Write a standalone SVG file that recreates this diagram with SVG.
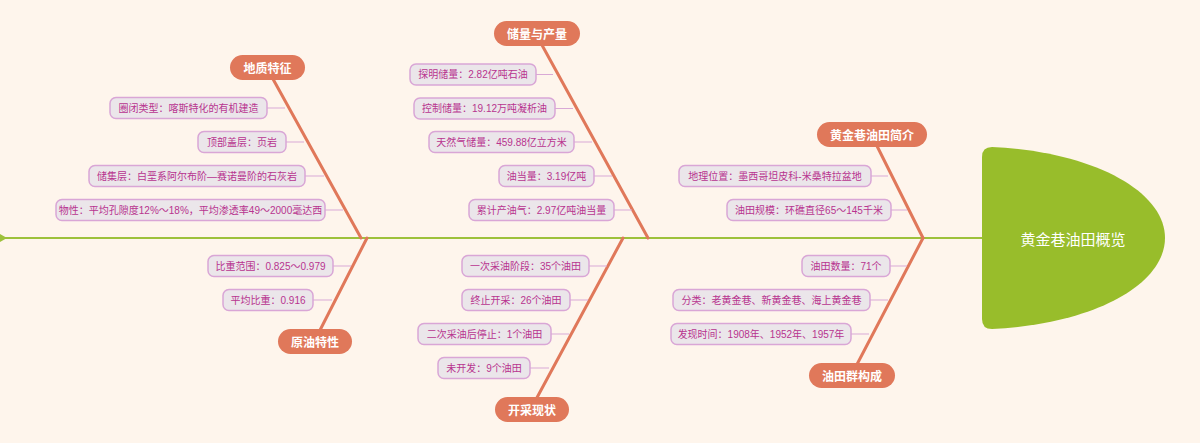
<svg xmlns="http://www.w3.org/2000/svg" width="1200" height="443" viewBox="0 0 1200 443">
<style>
.bg{fill:#fef5ec}
.spine{stroke:#9dc13b;stroke-width:2;fill:none}
.br{stroke:#e0785a;stroke-width:3;fill:none;stroke-linecap:round}
.cn{stroke:#d9a9d6;stroke-width:1;fill:none}
.pill{fill:#e0785a}
.pt{fill:#ffffff;font-family:"Noto Sans CJK SC",sans-serif;font-size:12px;font-weight:bold;text-anchor:middle;dominant-baseline:central}
.box{fill:#ebe6ea;stroke:#d9a6d6;stroke-width:1.5}
.bt{fill:#b8348f;font-family:"Liberation Sans","Noto Sans CJK SC",sans-serif;font-size:10px;text-anchor:middle;dominant-baseline:central}
.main{fill:#98bd2b}
.mt{fill:#ffffff;font-family:"Noto Sans CJK SC",sans-serif;font-size:15px;text-anchor:middle;dominant-baseline:central}
</style>
<rect class="bg" x="0" y="0" width="1200" height="443"/>
<g id="connectors">
<line class="spine" x1="0" y1="238" x2="984" y2="238"/>
<polygon points="0,234 7,238 0,242" fill="#9dc13b"/>
<line class="br" x1="268" y1="70" x2="361" y2="238"/>
<line class="br" x1="367" y1="238" x2="315" y2="340"/>
<line class="br" x1="537" y1="36" x2="648" y2="238"/>
<line class="br" x1="623" y1="238" x2="533" y2="405"/>
<line class="br" x1="872" y1="136" x2="923" y2="238"/>
<line class="br" x1="923" y1="238" x2="853" y2="372"/>
<line class="cn" x1="267" y1="108" x2="285" y2="108"/>
<line class="cn" x1="286" y1="142" x2="304" y2="142"/>
<line class="cn" x1="305" y1="176" x2="324" y2="176"/>
<line class="cn" x1="325" y1="210" x2="343" y2="210"/>
<line class="cn" x1="333" y1="266" x2="351" y2="266"/>
<line class="cn" x1="313" y1="300" x2="332" y2="300"/>
<line class="cn" x1="536" y1="74.5" x2="553" y2="74.5"/>
<line class="cn" x1="555" y1="108.5" x2="573" y2="108.5"/>
<line class="cn" x1="574" y1="142" x2="592" y2="142"/>
<line class="cn" x1="594" y1="176" x2="612" y2="176"/>
<line class="cn" x1="614" y1="210" x2="632" y2="210"/>
<line class="cn" x1="589" y1="266" x2="607" y2="266"/>
<line class="cn" x1="570" y1="300" x2="588" y2="300"/>
<line class="cn" x1="551" y1="334" x2="569" y2="334"/>
<line class="cn" x1="530" y1="368" x2="549" y2="368"/>
<line class="cn" x1="871" y1="176" x2="888" y2="176"/>
<line class="cn" x1="891" y1="210" x2="907" y2="210"/>
<line class="cn" x1="890" y1="266" x2="907" y2="266"/>
<line class="cn" x1="870" y1="300" x2="888" y2="300"/>
<line class="cn" x1="851" y1="334" x2="869" y2="334"/>
</g>
<g id="main">
<path class="main" d="M982,157 Q982,147 992,147 C1095,152 1165,192 1165,238 C1165,284 1095,324 992,329 Q982,329 982,319 Z"/>
<text class="mt" x="1073" y="238">黄金巷油田概览</text>
</g>
<g id="b-dizhi"><rect class="pill" x="230" y="55" width="75" height="25" rx="12.5"/><text class="pt" x="267.5" y="67.5">地质特征</text></g>
<g id="b-yuanyou"><rect class="pill" x="278" y="329" width="74" height="25" rx="12.5"/><text class="pt" x="315" y="341.5">原油特性</text></g>
<g id="b-chuliang"><rect class="pill" x="494" y="21" width="86" height="25" rx="12.5"/><text class="pt" x="537" y="33.5">储量与产量</text></g>
<g id="b-kaicai"><rect class="pill" x="495" y="397" width="74" height="25" rx="12.5"/><text class="pt" x="532" y="409.5">开采现状</text></g>
<g id="b-jianjie"><rect class="pill" x="817" y="122" width="110" height="25" rx="12.5"/><text class="pt" x="872" y="134.5">黄金巷油田简介</text></g>
<g id="b-qun"><rect class="pill" x="809" y="363" width="86" height="25" rx="12.5"/><text class="pt" x="852" y="375.5">油田群构成</text></g>
<g id="a1"><rect class="box" x="110" y="97.5" width="157" height="21" rx="6"/><text class="bt" x="188.5" y="108">圈闭类型：喀斯特化的有机建造</text></g>
<g id="a2"><rect class="box" x="198" y="131.5" width="88" height="21" rx="6"/><text class="bt" x="242" y="142">顶部盖层：页岩</text></g>
<g id="a3"><rect class="box" x="89" y="165.5" width="216" height="21" rx="6"/><text class="bt" x="197" y="176">储集层：白垩系阿尔布阶—赛诺曼阶的石灰岩</text></g>
<g id="a4"><rect class="box" x="56" y="199.5" width="269" height="21" rx="6"/><text class="bt" x="190.5" y="210">物性：平均孔隙度12%～18%，平均渗透率49～2000毫达西</text></g>
<g id="b1"><rect class="box" x="208" y="255.5" width="125" height="21" rx="6"/><text class="bt" x="270.5" y="266">比重范围：0.825～0.979</text></g>
<g id="b2"><rect class="box" x="223" y="289.5" width="90" height="21" rx="6"/><text class="bt" x="268" y="300">平均比重：0.916</text></g>
<g id="c1"><rect class="box" x="410" y="64" width="126" height="21" rx="6"/><text class="bt" x="473" y="74.5">探明储量：2.82亿吨石油</text></g>
<g id="c2"><rect class="box" x="414" y="98" width="141" height="21" rx="6"/><text class="bt" x="484.5" y="108.5">控制储量：19.12万吨凝析油</text></g>
<g id="c3"><rect class="box" x="429" y="131.5" width="145" height="21" rx="6"/><text class="bt" x="501.5" y="142">天然气储量：459.88亿立方米</text></g>
<g id="c4"><rect class="box" x="499" y="165.5" width="95" height="21" rx="6"/><text class="bt" x="546.5" y="176">油当量：3.19亿吨</text></g>
<g id="c5"><rect class="box" x="469" y="199.5" width="145" height="21" rx="6"/><text class="bt" x="541.5" y="210">累计产油气：2.97亿吨油当量</text></g>
<g id="d1"><rect class="box" x="462" y="255.5" width="127" height="21" rx="6"/><text class="bt" x="525.5" y="266">一次采油阶段：35个油田</text></g>
<g id="d2"><rect class="box" x="462" y="289.5" width="108" height="21" rx="6"/><text class="bt" x="516" y="300">终止开采：26个油田</text></g>
<g id="d3"><rect class="box" x="418" y="323.5" width="133" height="21" rx="6"/><text class="bt" x="484.5" y="334">二次采油后停止：1个油田</text></g>
<g id="d4"><rect class="box" x="438" y="357.5" width="92" height="21" rx="6"/><text class="bt" x="484" y="368">未开发：9个油田</text></g>
<g id="e1"><rect class="box" x="679" y="165.5" width="192" height="21" rx="6"/><text class="bt" x="775" y="176">地理位置：墨西哥坦皮科-米桑特拉盆地</text></g>
<g id="e2"><rect class="box" x="727" y="199.5" width="164" height="21" rx="6"/><text class="bt" x="809" y="210">油田规模：环礁直径65～145千米</text></g>
<g id="f1"><rect class="box" x="802" y="255.5" width="88" height="21" rx="6"/><text class="bt" x="846" y="266">油田数量：71个</text></g>
<g id="f2"><rect class="box" x="673" y="289.5" width="197" height="21" rx="6"/><text class="bt" x="771.5" y="300">分类：老黄金巷、新黄金巷、海上黄金巷</text></g>
<g id="f3"><rect class="box" x="671" y="323.5" width="180" height="21" rx="6"/><text class="bt" x="761" y="334">发现时间：1908年、1952年、1957年</text></g>
</svg>
